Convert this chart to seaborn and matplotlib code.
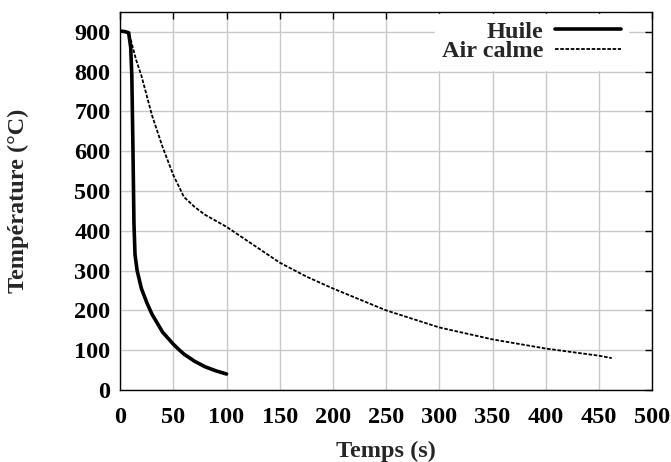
import numpy as np
import pandas as pd
import matplotlib
matplotlib.use('Agg')
import matplotlib.pyplot as plt
import seaborn as sns

# cooling curves
huile_t = [0, 4, 8, 10, 11, 12, 13, 14, 16, 20, 25, 30, 40, 50, 55, 60, 70, 80, 90, 100]
huile_T = [902, 901, 898, 860, 790, 620, 420, 340, 300, 255, 220, 190, 145, 115, 102, 90, 72, 58, 48, 40]

air_t = [0, 5, 8, 10, 15, 20, 25, 30, 40, 50, 60, 70, 80, 100, 125, 150, 175, 200, 250, 300, 350, 400, 450, 462]
air_T = [902, 901, 898, 880, 830, 790, 740, 690, 610, 540, 485, 460, 440, 410, 365, 320, 285, 255, 200, 157, 127, 104, 86, 80]

df_h = pd.DataFrame({'t': huile_t, 'T': huile_T})
df_a = pd.DataFrame({'t': air_t, 'T': air_T})

sns.set_style('white')
plt.rcParams['font.family'] = ['Liberation Serif', 'DejaVu Serif']
plt.rcParams['font.weight'] = 'bold'
fs = 17.5

fig = plt.figure(figsize=(6.71, 4.62), dpi=100)
ax = fig.add_axes([0.179, 0.156, 0.793, 0.818])

sns.lineplot(data=df_h, x='t', y='T', ax=ax, color='black', lw=2.6, label='Huile')
sns.lineplot(data=df_a, x='t', y='T', ax=ax, color='black', lw=1.3,
             linestyle=(0, (2.0, 0.9)), label='Air calme')

ax.set_xlim(0, 500)
ax.set_ylim(0, 950)
ax.set_xticks(np.arange(0, 501, 50))
ax.set_yticks(np.arange(0, 901, 100))
ax.grid(True, color='#c8c8c8', lw=1)
ax.tick_params(direction='in', length=5, width=1, top=True, right=True,
               labelsize=fs, colors='black')
ax.tick_params(axis='x', pad=12)
ax.tick_params(axis='y', pad=7)
for lab in ax.get_xticklabels() + ax.get_yticklabels():
    lab.set_fontweight('bold')
for s in ax.spines.values():
    s.set_color('black')
    s.set_linewidth(1)

ax.set_xlabel('Temps (s)', fontsize=fs, fontweight='bold')
ax.set_ylabel('Température (°C)', fontsize=fs, fontweight='bold')
ax.xaxis.set_label_coords(0.5, -0.164)
ax.xaxis.label.set_va('center')
ax.yaxis.set_label_coords(-0.192, 0.5)
ax.yaxis.label.set_va('center')

leg = ax.legend(loc='upper right', bbox_to_anchor=(0.955, 0.996), markerfirst=False,
                frameon=True, fancybox=False, edgecolor='white', framealpha=1,
                handlelength=2.7, prop={'size': fs, 'weight': 'bold'},
                borderaxespad=0.0, borderpad=0.3, labelspacing=-0.1, handletextpad=0.5)
for txt in leg.get_texts():
    txt.set_ha('right')

fig.savefig('out.png', dpi=100)
